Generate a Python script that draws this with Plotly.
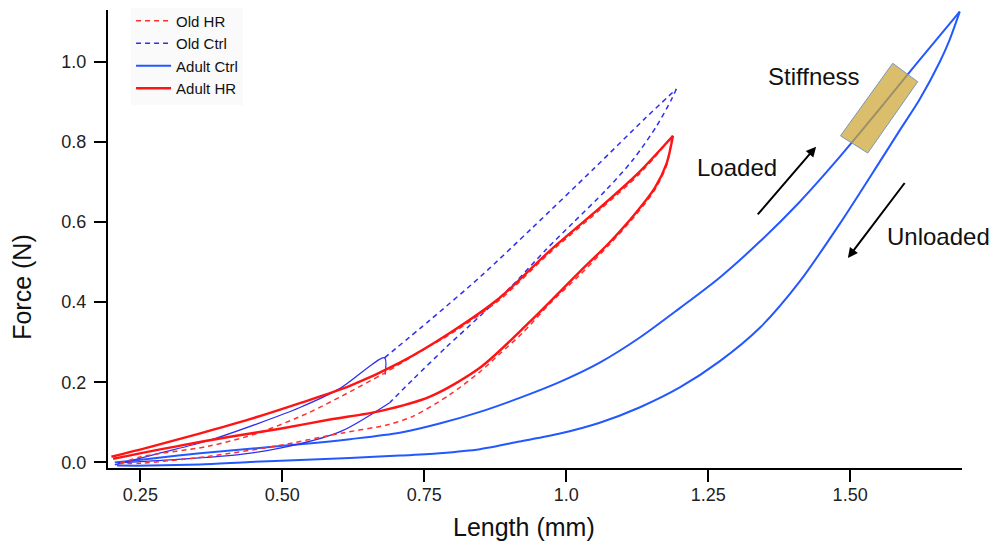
import plotly.graph_objects as go

# ---------------- data ----------------
# Adult Ctrl: loading branch, then unloading branch (both meet at the peak)
adult_ctrl_load_x = [0.205, 0.267, 0.355, 0.443, 0.531, 0.619, 0.707, 0.777, 0.848, 0.918, 0.989,
                     1.059, 1.129, 1.200, 1.270, 1.341, 1.411, 1.482, 1.552, 1.622, 1.693]
adult_ctrl_load_y = [0.000, 0.009, 0.023, 0.034, 0.045, 0.058, 0.074, 0.097, 0.126, 0.161, 0.201,
                     0.249, 0.311, 0.385, 0.461, 0.551, 0.650, 0.763, 0.882, 1.004, 1.125]
adult_ctrl_unload_x = [1.693, 1.675, 1.658, 1.622, 1.587, 1.552, 1.482, 1.411, 1.341, 1.270, 1.200,
                       1.129, 1.059, 0.989, 0.918, 0.848, 0.777, 0.707, 0.619, 0.531, 0.443, 0.355,
                       0.267, 0.209]
adult_ctrl_unload_y = [1.125, 1.054, 1.000, 0.905, 0.828, 0.750, 0.596, 0.451, 0.336, 0.252, 0.187,
                       0.137, 0.099, 0.072, 0.052, 0.033, 0.023, 0.017, 0.011, 0.006, 0.001, -0.005,
                       -0.008, -0.008]

# Adult HR
adult_hr_load_x = [0.199, 0.266, 0.354, 0.443, 0.531, 0.619, 0.707, 0.795, 0.883, 0.971, 1.059,
                   1.129, 1.188]
adult_hr_load_y = [0.014, 0.038, 0.072, 0.108, 0.148, 0.191, 0.249, 0.323, 0.411, 0.528, 0.635,
                   0.725, 0.815]
adult_hr_unload_x = [1.188, 1.177, 1.156, 1.121, 1.077, 1.024, 0.936, 0.848, 0.760, 0.672, 0.584,
                     0.496, 0.408, 0.320, 0.202]
adult_hr_unload_y = [0.815, 0.747, 0.685, 0.620, 0.550, 0.476, 0.351, 0.236, 0.164, 0.128, 0.107,
                     0.084, 0.064, 0.042, 0.009]

# Old HR
old_hr_load_x = [0.214, 0.251, 0.369, 0.457, 0.545, 0.604, 0.680, 0.754, 0.795, 0.883, 0.971,
                 1.059, 1.129, 1.186]
old_hr_load_y = [-0.003, 0.014, 0.040, 0.073, 0.123, 0.165, 0.223, 0.286, 0.319, 0.406, 0.523,
                 0.630, 0.720, 0.812]
old_hr_unload_x = [1.186, 1.177, 1.156, 1.121, 1.077, 1.024, 0.971, 0.923, 0.883, 0.848, 0.795,
                   0.730, 0.686, 0.604, 0.486, 0.369, 0.251, 0.214]
old_hr_unload_y = [0.812, 0.742, 0.680, 0.615, 0.545, 0.468, 0.396, 0.323, 0.271, 0.226, 0.169,
                   0.115, 0.094, 0.073, 0.040, 0.015, -0.002, -0.003]

# Old Ctrl: dense (solid-looking) low parts, dashed upper loop
old_ctrl_load_x = [0.205, 0.281, 0.369, 0.457, 0.531, 0.601, 0.680, 0.681]
old_ctrl_load_y = [-0.006, 0.022, 0.054, 0.097, 0.137, 0.184, 0.261, 0.219]
old_ctrl_loop_up_x = [0.680, 0.760, 0.850, 0.940, 1.050, 1.140, 1.194]
old_ctrl_loop_up_y = [0.261, 0.355, 0.465, 0.585, 0.735, 0.860, 0.932]
old_ctrl_loop_down_x = [1.194, 1.185, 1.159, 1.118, 1.071, 1.012, 0.965, 0.906, 0.848, 0.789,
                        0.730, 0.689]
old_ctrl_loop_down_y = [0.932, 0.905, 0.839, 0.756, 0.681, 0.598, 0.532, 0.443, 0.365, 0.288,
                        0.207, 0.149]
old_ctrl_unload_x = [0.689, 0.604, 0.515, 0.427, 0.310, 0.210]
old_ctrl_unload_y = [0.149, 0.078, 0.041, 0.020, 0.007, -0.001]

x_tickvals = [0.25, 0.50, 0.75, 1.0, 1.25, 1.50]
x_ticktext = ["0.25", "0.50", "0.75", "1.0", "1.25", "1.50"]
y_tickvals = [0.0, 0.2, 0.4, 0.6, 0.8, 1.0]
y_ticktext = ["0.0", "0.2", "0.4", "0.6", "0.8", "1.0"]

# stiffness box corners (data units)
box_x = [1.575, 1.619, 1.531, 1.483]
box_y = [0.996, 0.950, 0.772, 0.815]


def join(*branches):
    """Join branches with None so each is splined on its own."""
    xs, ys = [], []
    for bx, by in branches:
        if xs:
            xs.append(None)
            ys.append(None)
        xs += bx
        ys += by
    return xs, ys


# ---------------- figure ----------------
FONT = "Liberation Sans, Arial, Helvetica, sans-serif"
C_ADULT_CTRL = "#2458ff"
C_OLD_CTRL = "#2e2ef0"
C_ADULT_HR = "#ff1414"
C_OLD_HR = "#ff3030"
SPL = dict(shape="spline", smoothing=0.8)

fig = go.Figure()

ax_, ay_ = join((adult_ctrl_load_x, adult_ctrl_load_y), (adult_ctrl_unload_x, adult_ctrl_unload_y))
fig.add_trace(go.Scatter(x=ax_, y=ay_, mode="lines", name="Adult Ctrl", connectgaps=False,
                         line=dict(color=C_ADULT_CTRL, width=2, **SPL), legendrank=3))

sx, sy = join((old_ctrl_load_x, old_ctrl_load_y), (old_ctrl_unload_x, old_ctrl_unload_y))
fig.add_trace(go.Scatter(x=sx, y=sy, mode="lines", name="Old Ctrl", legendgroup="oc",
                         showlegend=False, connectgaps=False,
                         line=dict(color=C_OLD_CTRL, width=1.3, **SPL)))
dx, dy = join((old_ctrl_loop_up_x, old_ctrl_loop_up_y), (old_ctrl_loop_down_x, old_ctrl_loop_down_y))
fig.add_trace(go.Scatter(x=dx, y=dy, mode="lines", name="Old Ctrl", legendgroup="oc",
                         legendrank=2, connectgaps=False,
                         line=dict(color=C_OLD_CTRL, width=1.5, dash="5px,4px", **SPL)))

hx, hy = join((old_hr_load_x, old_hr_load_y), (old_hr_unload_x, old_hr_unload_y))
fig.add_trace(go.Scatter(x=hx, y=hy, mode="lines", name="Old HR", legendrank=1, connectgaps=False,
                         line=dict(color=C_OLD_HR, width=1.5, dash="5px,4px", **SPL)))

rx, ry = join((adult_hr_load_x, adult_hr_load_y), (adult_hr_unload_x, adult_hr_unload_y))
fig.add_trace(go.Scatter(x=rx, y=ry, mode="lines", name="Adult HR", legendrank=4, connectgaps=False,
                         line=dict(color=C_ADULT_HR, width=2.4, **SPL)))

path = "M " + " L ".join(f"{bx},{by}" for bx, by in zip(box_x, box_y)) + " Z"
fig.add_shape(type="path", path=path, xref="x", yref="y", layer="above",
              fillcolor="rgba(205,165,50,0.72)", line=dict(color="rgb(120,150,190)", width=1))

annot_font = dict(family=FONT, size=24, color="#111111")
fig.add_annotation(x=1.436, y=0.962, text="Stiffness", showarrow=False, font=annot_font)
fig.add_annotation(x=1.300, y=0.735, text="Loaded", showarrow=False, font=annot_font)
fig.add_annotation(x=1.656, y=0.563, text="Unloaded", showarrow=False, font=annot_font)

arrow_kw = dict(showarrow=True, text="", axref="x", ayref="y", arrowhead=2, arrowsize=1,
                arrowwidth=2, arrowcolor="black", standoff=0, startstandoff=0)
fig.add_annotation(x=1.440, y=0.788, ax=1.335, ay=0.615, **arrow_kw)
fig.add_annotation(x=1.496, y=0.510, ax=1.598, ay=0.701, **arrow_kw)

# axis titles (placed as in the reference, slightly off-centre)
title_font = dict(family=FONT, size=25, color="#111111")
fig.add_annotation(xref="paper", yref="paper", x=0.4877, y=-0.1288, text="Length (mm)",
                   showarrow=False, font=title_font, xanchor="center", yanchor="middle")
fig.add_annotation(xref="paper", yref="paper", x=-0.101, y=0.395, text="Force (N)",
                   showarrow=False, font=title_font, xanchor="center", yanchor="middle",
                   textangle=-90)

# the page body has an 8px default margin, so the figure is 8px smaller and margins shifted
fig.update_layout(
    width=990, height=537,
    margin=dict(l=100, r=36, t=2, b=77, autoexpand=False),
    paper_bgcolor="white", plot_bgcolor="white",
    font=dict(family=FONT, size=18, color="#222222"),
    showlegend=True,
    legend=dict(x=0.027, y=1.012, xanchor="left", yanchor="top",
                bgcolor="rgba(250,250,250,0.9)", borderwidth=0,
                font=dict(family=FONT, size=15, color="#111111"),
                tracegroupgap=0, itemwidth=35),
    xaxis=dict(range=[0.193, 1.697], tickvals=x_tickvals, ticktext=x_ticktext, automargin=False,
               showgrid=False, zeroline=False, showline=True, linecolor="black", linewidth=2,
               ticks="outside", ticklen=12, tickwidth=1.5, tickcolor="black",
               ticklabelstandoff=-3),
    yaxis=dict(range=[-0.014, 1.129], tickvals=y_tickvals, ticktext=y_ticktext, automargin=False,
               showgrid=False, zeroline=False, showline=True, linecolor="black", linewidth=2,
               ticks="outside", ticklen=12, tickwidth=1.5, tickcolor="black",
               ticklabelstandoff=4),
)

fig.write_html("out.html")
